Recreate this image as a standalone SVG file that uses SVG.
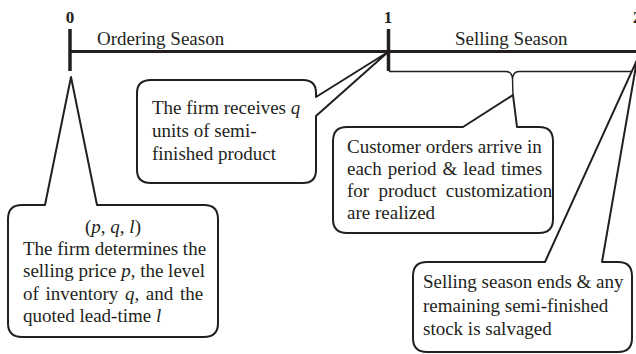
<svg xmlns="http://www.w3.org/2000/svg" width="636" height="354" viewBox="0 0 636 354">
  <style>
    text { font-family: "Liberation Serif"; font-size: 19px; fill: #231f20; }
    .num { font-weight: bold; font-size: 17px; }
    .v { font-style: italic; }
    .axis { stroke: #231f20; stroke-width: 3; fill: none; }
    .tick { stroke: #231f20; stroke-width: 3.5; fill: none; }
    .brace { stroke: #231f20; stroke-width: 1.4; fill: none; }
    .callout { stroke: #231f20; stroke-width: 2; fill: #ffffff; stroke-linejoin: round; }
  </style>

  <!-- time axis, period ticks and the selling-season bracket -->
  <g id="connectors">
    <line class="axis" x1="70" y1="51.5" x2="636" y2="51.5"/>
    <line class="tick" x1="70" y1="29" x2="70" y2="71"/>
    <line class="tick" x1="388.5" y1="29" x2="388.5" y2="71"/>
    <path class="brace" d="M 389 71.5 H 506 Q 512 71.5 512.5 79 L 513 96 M 512.5 79 Q 513 71.5 519 71.5 H 636"/>
  </g>

  <g id="labels" font-family="Liberation Serif">
    <text class="num" x="70" y="23" text-anchor="middle">0</text>
    <text class="num" x="388" y="23" text-anchor="middle">1</text>
    <text class="num" x="633" y="23">2</text>
    <text x="97" y="45">Ordering Season</text>
    <text x="455" y="45">Selling Season</text>
  </g>

  <!-- decision at time 0 -->
  <g id="decision" font-family="Liberation Serif">
    <path class="callout" d="M 22 205 H 45 L 71 77 L 97 205 H 204 Q 218 205 218 219 V 323 Q 218 337 204 337 H 22 Q 8 337 8 323 V 219 Q 8 205 22 205 Z"/>
    <text x="113" y="233" text-anchor="middle">(<tspan class="v">p</tspan>, <tspan class="v">q</tspan>, <tspan class="v">l</tspan>)</text>
    <text x="23" y="255">The firm determines the</text>
    <text x="23" y="277">selling price <tspan class="v">p</tspan>, the level</text>
    <text x="23" y="300" word-spacing="1.9">of inventory <tspan class="v">q</tspan>, and the</text>
    <text x="23" y="322">quoted lead-time <tspan class="v">l</tspan></text>
  </g>

  <!-- delivery at time 1 -->
  <g id="delivery" font-family="Liberation Serif">
    <path class="callout" d="M 151 80 H 303 Q 316 80 316 93 V 97 L 388 52 L 316 116 V 170 Q 316 183 303 183 H 151 Q 137 183 137 170 V 93 Q 137 80 151 80 Z"/>
    <text x="152" y="114">The firm receives <tspan class="v">q</tspan></text>
    <text x="152" y="137">units of semi-</text>
    <text x="152" y="160">finished product</text>
  </g>

  <!-- demand during the selling season -->
  <g id="orders" font-family="Liberation Serif">
    <path class="callout" d="M 347 127 H 463 L 513 95 L 517 127 H 539 Q 553 127 553 141 V 219 Q 553 233 539 233 H 347 Q 333 233 333 219 V 141 Q 333 127 347 127 Z"/>
    <text x="347" y="153">Customer orders arrive in</text>
    <text x="347" y="175" word-spacing="1.3">each period &amp; lead times</text>
    <text x="347" y="197" word-spacing="4.5">for product customization</text>
    <text x="347" y="219">are realized</text>
  </g>

  <!-- end of season at time 2 -->
  <g id="salvage" font-family="Liberation Serif">
    <path class="callout" d="M 427 262 H 545 L 637 60 L 602 262 H 618 Q 632 262 632 276 V 338 Q 632 352 618 352 H 427 Q 413 352 413 338 V 276 Q 413 262 427 262 Z"/>
    <text x="423" y="288">Selling season ends &amp; any</text>
    <text x="423" y="312">remaining semi-finished</text>
    <text x="423" y="335">stock is salvaged</text>
  </g>
</svg>
